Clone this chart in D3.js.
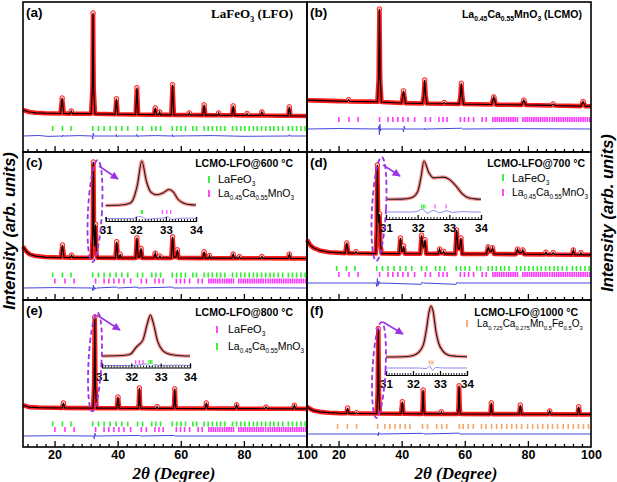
<!DOCTYPE html>
<html><head><meta charset="utf-8">
<script src="https://cdn.jsdelivr.net/npm/d3@7"></script>
<style>body{margin:0;background:#fff}svg{display:block}</style>
</head><body>
<svg id="chart" width="617" height="482"></svg>
<script>
// ---------------- DATA (2θ in degrees, intensity in arb. units, main peak = 100) ----------------
const obsA = [[10,4],[11,3],[12,2],[14,1.2],[17,0.8],[21.9,0.5],[22.4,15.8],[22.9,0.5],[24.9,0.4],[25.3,3],[25.7,0.4],[31.6,0.3],[32.0,25],[32.2,100],[32.4,25],[32.8,0.2],[39.2,-0.2],[39.6,15],[40.0,-0.2],[45.7,-0.5],[46.1,26],[46.5,-0.5],[51.5,-0.7],[51.9,6],[52.3,-0.7],[53.0,-0.7],[53.3,2],[53.6,-0.8],[57.0,-0.9],[57.4,29],[57.8,-0.9],[62.4,-1],[62.7,1],[63.0,-1],[67.0,-1.1],[67.4,9],[67.8,-1.1],[71.7,-1.2],[72.0,1],[72.3,-1.2],[76.2,-1.3],[76.6,8],[77.0,-1.3],[80.7,-1.4],[81.0,0.5],[81.3,-1.4],[85.3,-1.5],[85.7,2],[86.1,-1.5],[94.0,-1.8],[94.4,7],[94.8,-1.8],[100,-2]];
const obsB = [[10,3],[15,2.5],[20,2],[22.8,1.8],[23.2,3.5],[23.6,1.7],[30,1.5],[32.3,1.3],[32.7,25],[32.95,100],[33.2,25],[33.6,1],[40.0,0],[40.6,12.8],[41.2,-0.1],[46.6,-0.5],[47.0,8],[47.3,24.5],[47.6,8],[48.0,-0.6],[53.1,-0.8],[53.5,0.5],[53.9,-0.8],[58.2,-1],[58.6,7],[58.9,21],[59.2,7],[59.6,-1.1],[68.5,-1.6],[69.2,6.4],[69.9,-1.7],[78.0,-2],[78.7,3],[79.4,-2.1],[87.4,-2.6],[88.0,-1],[88.6,-2.7],[96.8,-3.3],[97.5,1.5],[98.2,-3.4],[100,-3.5]];
const obsC = [[10,12],[11,7],[12,4],[14,2],[17,1],[22.0,0.5],[22.5,13.5],[23.0,0.5],[25.0,0.4],[25.4,3],[25.8,0.4],[31.8,0.3],[32.1,25],[32.3,100],[32.5,30],[32.75,12],[33.0,35],[33.3,3],[33.6,0.2],[39.3,0.1],[39.7,17],[40.1,0.1],[40.5,0.1],[40.8,4],[41.1,0.1],[45.7,0],[46.1,21],[46.5,1],[47.0,1],[47.4,10],[47.8,0],[51.5,0],[51.9,5],[52.3,0],[53.1,0],[53.4,2],[53.7,0],[57.0,0],[57.4,22],[57.8,1],[58.5,1],[58.9,8.5],[59.3,0],[67.0,-0.1],[67.4,6.5],[67.8,-0.1],[68.8,-0.1],[69.1,2.5],[69.4,-0.1],[76.2,-0.2],[76.6,4],[77.0,-0.2],[78.3,-0.2],[78.6,1.5],[78.9,-0.2],[85.3,-0.3],[85.7,1.5],[86.1,-0.3],[94.0,-0.4],[94.4,4],[94.8,-0.4],[100,-0.5]];
const obsD = [[10,16],[11,10],[12,7],[14,4],[17,2],[22.1,1],[22.6,12.4],[23.1,1],[25.2,0.9],[25.5,2.5],[25.8,0.9],[31.8,0.5],[32.1,30],[32.3,100],[32.5,50],[32.75,35],[33.0,45],[33.3,10],[33.7,0.5],[39.2,0.4],[39.6,18],[40.0,3],[40.3,3],[40.6,9],[41.0,0.4],[45.9,0.3],[46.3,21],[46.8,8],[47.1,8],[47.4,16],[47.8,0.3],[51.6,0.2],[52.0,5.5],[52.4,1],[53.0,1],[53.3,3],[53.6,0.2],[57.0,0.1],[57.4,27],[57.9,6],[58.4,6],[58.8,18],[59.2,0.1],[66.9,0],[67.4,8],[67.9,3],[68.4,3],[68.8,7],[69.3,0],[76.2,-0.2],[76.7,5.5],[77.2,1.5],[78.0,1.5],[78.4,4.5],[78.8,-0.2],[85.3,-0.4],[85.7,2],[86.1,-0.4],[87.6,-0.5],[88.0,1.5],[88.4,-0.5],[94.0,-0.8],[94.4,4.5],[94.8,-0.8],[96.5,-0.9],[96.8,1.5],[97.1,-0.9],[100,-1]];
const obsE = [[10,3],[12,1],[15,0.5],[20,0.2],[22.4,0],[22.8,5.5],[23.2,0],[32.2,-0.1],[32.55,25],[32.75,100],[32.95,25],[33.3,-0.1],[39.7,-0.2],[40.1,12],[40.5,-0.2],[46.5,-0.3],[46.7,5],[46.9,22],[47.1,5],[47.3,-0.3],[52.2,-0.4],[52.5,1.5],[52.8,-0.4],[57.7,-0.5],[57.9,5],[58.1,21],[58.3,5],[58.5,-0.5],[67.7,-0.6],[68.1,5.5],[68.5,-0.6],[77.3,-0.7],[77.7,3.5],[78.1,-0.7],[86.6,-0.8],[87.0,1],[87.4,-0.8],[95.6,-0.9],[96.0,3],[96.4,-0.9],[100,-1]];
const obsF = [[10,8.5],[11,6],[12,4],[14,2.5],[17,1.5],[20,1],[22.45,0.8],[22.85,7],[23.25,0.8],[25.4,0.7],[25.7,1.5],[26.0,0.7],[32.1,0.5],[32.4,25],[32.6,100],[32.8,25],[33.1,0.5],[39.8,0.3],[40.2,14.4],[40.6,0.3],[46.4,0.2],[46.6,6],[46.8,28],[47.0,6],[47.2,0.2],[52.3,0.1],[52.6,2.5],[52.9,0.1],[57.8,0],[58.0,7],[58.2,33],[58.4,7],[58.6,0],[68.0,-0.1],[68.2,3],[68.4,13],[68.6,3],[68.8,-0.1],[77.2,-0.2],[77.6,10.5],[78.0,-0.2],[86.5,-0.3],[86.9,3.5],[87.3,-0.3],[95.7,-0.4],[96.1,8.5],[96.5,-0.4],[100,-0.5]];

const diffA = [[10,0],[15,0.5],[18,-0.4],[22.2,0],[22.4,-1],[22.6,1],[22.8,0],[28,0.4],[31.9,0],[32.1,-3],[32.25,3],[32.5,0],[39.5,0],[39.6,1.5],[39.8,-1],[40,0],[46,0],[46.1,1.5],[46.3,-1],[46.5,0],[52,0.4],[57.3,0],[57.4,1.5],[57.6,-1],[57.8,0],[70,0.4],[80,-0.3],[94.3,0],[94.4,1.2],[94.6,0],[100,0]];
const diffB = [[10,0],[20,0.5],[32.6,0],[32.8,3],[32.95,-6],[33.1,5],[33.3,-2],[33.5,0],[40.4,0],[40.6,-3],[40.8,3],[41,0],[47.2,0],[47.3,1],[47.5,-1],[47.7,0],[59,0.8],[59.3,0],[75,0.4],[100,0]];
const diffC = [[10,0],[20,0.4],[31.9,0],[32.1,-3],[32.3,3],[32.5,-2],[32.7,1],[33,-1],[33.3,0],[39.7,1],[40,0],[46.2,1],[46.4,0],[57.4,1],[57.6,0],[80,0.3],[100,0]];
const diffD = [[10,0],[31.9,0],[32.1,-4],[32.3,5],[32.5,-3],[32.8,2],[33.1,-1],[33.4,0],[46.2,-1.5],[46.5,1],[46.8,0],[57.3,-1.5],[57.6,1],[57.9,0],[100,0]];
const diffE = [[10,0],[20,0.3],[32.4,0],[32.6,-3],[32.8,3],[33,0],[47,0.6],[47.2,0],[58,0.6],[58.2,0],[100,0]];
const diffF = [[10,0],[32.4,0],[32.55,-2],[32.7,2],[32.9,0],[46.8,0.8],[47,0],[58.2,1],[58.4,0],[100,0]];

// Bragg reflection positions (2θ)
const LFO_TICKS = [19.4,22.5,25.2,32.1,33.9,35.7,37.6,39.5,41.3,43.2,46.3,47.9,50.8,52.1,53.6,57.3,58.7,60.1,61.5,63.8,65.0,67.4,68.7,70.0,71.4,72.6,74.0,76.4,77.7,79.0,80.3,81.7,83.0,84.2,85.6,86.9,88.3,89.5,90.9,92.3,94.1,95.4,96.7,98.1,99.4];
const LCMO_TICKS = [20.1,23.3,26.2,33.0,35.7,37.2,38.8,40.4,42.0,44.1,47.5,49.1,51.8,53.1,54.4,58.6,59.9,61.2,62.8,65.5,66.8,68.9,69.6,70.3,71.0,71.7,72.4,73.2,73.9,74.6,75.3,76.0,76.7,78.4,79.1,79.8,80.5,81.2,81.9,82.6,83.3,84.0,84.7,85.4,86.1,86.9,87.7,88.4,89.1,89.8,90.5,91.2,91.9,92.6,93.3,94.0,94.7,95.4,96.1,96.8,97.5,98.2,98.9,99.6];
const LCMFO_TICKS = [19.7,22.8,25.7,32.4,34.7,36.3,37.9,39.5,41.1,42.6,46.6,48.2,51.1,52.7,54.3,58.3,59.5,61.1,62.7,65.3,66.7,68.5,70.1,71.7,73.3,74.9,76.4,78.0,79.9,81.5,83.1,84.7,86.3,87.8,89.4,91.2,92.8,94.4,96.0,97.6,99.2];

// Insets (31–34°)
const insetC = [[31,0],[31.5,1],[31.8,5],[31.9,12],[32.05,45],[32.2,100],[32.35,55],[32.5,30],[32.7,24],[32.9,28],[33.1,36],[33.25,30],[33.4,14],[33.6,5],[33.8,2],[34,1]];
const insetD = [[31,0],[31.5,0.5],[31.8,4],[32.0,20],[32.1,55],[32.2,100],[32.35,70],[32.5,56],[32.8,58],[33.0,52],[33.2,36],[33.4,15],[33.6,4],[33.8,1],[34,0]];
const insetE = [[31,0],[31.5,0.5],[31.9,3],[32.0,6],[32.15,20],[32.25,27],[32.4,40],[32.55,80],[32.65,100],[32.75,80],[32.9,35],[33.05,15],[33.2,7],[33.5,2],[34,0]];
const insetF = [[31,0],[31.8,1],[32.1,5],[32.3,15],[32.4,27],[32.5,55],[32.6,90],[32.67,100],[32.75,88],[32.85,50],[32.95,27],[33.1,12],[33.3,4],[33.6,1.5],[34,0.5]];
const insetDiffC = [[31,0],[31.9,0],[32.1,5],[32.25,2],[32.4,-2],[32.6,0],[32.9,1],[33.05,4],[33.2,-2],[33.4,0],[33.7,1],[34,0]];
const insetDiffD = [[31,0],[31.8,0],[32.0,2],[32.15,8],[32.3,-3],[32.5,4],[32.7,-2],[32.9,3],[33.1,-1],[33.4,1],[33.7,0],[34,0]];
const insetDiffE = [[31,0],[32.0,0],[32.3,2],[32.5,4],[32.65,-3],[32.8,2],[33.0,0],[33.5,1],[34,0]];
const insetDiffF = [[31,0],[32.2,0],[32.5,-1],[32.62,4],[32.72,-4],[32.85,1],[33.1,0],[34,0]];
const insetTicksC_LFO = [32.18,32.22], insetTicksC_LCMO = [32.88,33.03,33.16];
const insetTicksD_LFO = [32.13,32.18,32.23], insetTicksD_LCMO = [32.55,32.9];
const insetTicksE_LFO = [32.15,32.27,32.4], insetTicksE_LCMO = [32.6,32.65,32.7];
const insetTicksF = [32.6,32.67,32.74];

const xMajor = [20,40,60,80,100];
const insetMajor = [31,32,33,34];

// ---------------- STYLE / LAYOUT ----------------
const SANS = "'Liberation Sans', Arial, sans-serif";
const SERIF = "'Liberation Serif', 'Times New Roman', serif";
const GREEN = '#2cf02c', MAGENTA = '#ff33ff', ORANGE = '#f4a66a', BLUE = '#4646dc', PURPLE = '#9a35e6';
const cols = [[23,307],[307,591]];
const rows = [[2,152],[152,300],[300,447]];

const panels = [
 {col:0,row:0,obs:obsA,diff:diffA,base:114,peak:13,diffY:136,bragg:[[LFO_TICKS,GREEN,126]],label:'(a)'},
 {col:1,row:0,obs:obsB,diff:diffB,base:103,peak:9,diffY:129,bragg:[[LCMO_TICKS,MAGENTA,117]],label:'(b)'},
 {col:0,row:1,obs:obsC,diff:diffC,base:258,peak:162,diffY:288,bragg:[[LFO_TICKS,GREEN,272.5],[LCMO_TICKS,MAGENTA,278.5]],label:'(c)',
   ell:[95,211,7,51,3],arrow:[99,166,118,179],
   inset:{data:insetC,diff:insetDiffC,x0:105.7,x1:196,axisY:221,base:205.5,peak:161,braggY:210,diffY:218.5,ticks:[[insetTicksC_LFO,GREEN],[insetTicksC_LCMO,MAGENTA]]}},
 {col:1,row:1,obs:obsD,diff:diffD,base:254,peak:165,diffY:283,bragg:[[LFO_TICKS,GREEN,266],[LCMO_TICKS,MAGENTA,272]],label:'(d)',
   ell:[379,209,7,52,3],arrow:[383,165,400,176],
   inset:{data:insetD,diff:insetDiffD,x0:386,x1:481,axisY:219,base:199.3,peak:161,braggY:204.5,diffY:212,ticks:[[insetTicksD_LFO,GREEN],[insetTicksD_LCMO,MAGENTA]]}},
 {col:0,row:2,obs:obsE,diff:diffE,base:408,peak:317,diffY:436,bragg:[[LFO_TICKS,GREEN,421.5],[LCMO_TICKS,MAGENTA,427]],label:'(e)',
   ell:[95,362,6.5,49.5,3],arrow:[97,315,120,330],
   inset:{data:insetE,diff:insetDiffE,x0:102,x1:190,axisY:367.5,base:356,peak:315,braggY:360,diffY:365.5,ticks:[[insetTicksE_LFO,MAGENTA],[insetTicksE_LCMO,GREEN]]}},
 {col:1,row:2,obs:obsF,diff:diffF,base:414,peak:328.5,diffY:434,bragg:[[LCMFO_TICKS,ORANGE,424]],label:'(f)',
   ell:[379,370,6.5,48,3],arrow:[383,322,403,334],
   inset:{data:insetF,diff:insetDiffF,x0:386,x1:467,axisY:375,base:357,peak:306,braggY:360.5,diffY:368,ticks:[[insetTicksF,ORANGE]]}}
];

const svg = d3.select('#chart');
svg.append('rect').attr('width',617).attr('height',482).attr('fill','#fff');
svg.append('defs').append('marker').attr('id','arr').attr('viewBox','0 0 10 10').attr('refX',9).attr('refY',5)
  .attr('markerWidth',5).attr('markerHeight',5).attr('orient','auto')
  .append('path').attr('d','M0,0L10,5L0,10z').attr('fill',PURPLE);

function rich(sel, x, y, parts, o) {
  const t = sel.append('text').attr('x',x).attr('y',y).attr('font-family',o.ff||SANS)
    .attr('font-size',o.fs).attr('font-weight',o.fw||'normal').attr('text-anchor',o.anchor||'start').attr('fill','#000');
  const sfs = o.sfs || o.fs*0.62;
  let down = false;
  parts.forEach(p => {
    const sub = Array.isArray(p);
    const ts = t.append('tspan').text(sub ? p[0] : p);
    if (sub) { ts.attr('font-size', sfs); if (!down) { ts.attr('dy', o.fs*0.3); down = true; } }
    else if (down) { ts.attr('dy', -o.fs*0.3); down = false; }
  });
  return t;
}

const minorTicks = [];
for (let m = 0; m <= 100; m += 20) for (let k = 1; k <= 6; k++) { const v = m + k*20/7; if (v > 10 && v < 100) minorTicks.push(v); }
const insetMinor = d3.range(31, 34.001, 0.1).map(v => +v.toFixed(1)).filter(v => !insetMajor.includes(v));

panels.forEach(p => {
  const [x0,x1] = cols[p.col], [y0,y1] = rows[p.row];
  const x = d3.scaleLinear([10,100],[x0,x1]);
  const y = d3.scaleLinear([0,100],[p.base,p.peak]);
  const yd = d3.scaleLinear([0,100],[p.diffY,p.diffY-(p.base-p.peak)]);
  const g = svg.append('g');
  const line = d3.line().x(d=>x(d[0])).y(d=>y(d[1]));
  g.append('path').attr('d',line(p.obs)).attr('fill','none').attr('stroke','#ff1c1c').attr('stroke-width',4.6).attr('stroke-linejoin','round');
  const apex = p.obs.filter((d,i,a) => i>0 && i<a.length-1 && d[1]>a[i-1][1] && d[1]>a[i+1][1]);
  g.selectAll('circle.o').data(apex).join('circle').attr('cx',d=>x(d[0])).attr('cy',d=>y(d[1])).attr('r',2.3)
    .attr('fill','#ffc0c0').attr('stroke','#ff1c1c').attr('stroke-width',0.9);
  g.append('path').attr('d',line(p.obs)).attr('fill','none').attr('stroke','#000').attr('stroke-width',1.2);
  p.bragg.forEach(([ticks,color,ty]) => {
    g.selectAll(null).data(ticks).join('line').attr('x1',d=>x(d)).attr('x2',d=>x(d)).attr('y1',ty).attr('y2',ty+5)
      .attr('stroke',color).attr('stroke-width',1.6);
  });
  g.append('path').attr('d',d3.line().x(d=>x(d[0])).y(d=>yd(d[1]))(p.diff)).attr('fill','none').attr('stroke',BLUE).attr('stroke-width',1);
  // frame
  g.append('rect').attr('x',x0).attr('y',y0).attr('width',x1-x0).attr('height',y1-y0).attr('fill','none').attr('stroke','#000').attr('stroke-width',1.6);
  // ticks (inward, at bottom)
  const ax = g.append('g').attr('transform',`translate(0,${y1})`);
  ax.call(d3.axisTop(x).tickValues(xMajor.filter(v=>v<100)).tickSize(6).tickFormat(''));
  ax.select('.domain').remove();
  const axm = g.append('g').attr('transform',`translate(0,${y1})`);
  axm.call(d3.axisTop(x).tickValues(minorTicks).tickSize(3).tickFormat(''));
  axm.select('.domain').remove();
  g.selectAll('.tick line').attr('stroke','#000').attr('stroke-width',1.3);
  if (p.row === 2) {
    const al = g.append('g').attr('transform',`translate(0,${y1})`)
      .call(d3.axisBottom(x).tickValues(xMajor).tickSize(0).tickPadding(3));
    al.select('.domain').remove();
    al.selectAll('text').attr('font-family',SANS).attr('font-size',12.5).attr('font-weight','bold').attr('fill','#000');
  }
  g.append('text').attr('x',x0+3).attr('y',y0+15).text(p.label).attr('font-family',SANS).attr('font-size',13.5).attr('font-weight','bold');

  if (p.inset) {
    const I = p.inset;
    const xi = d3.scaleLinear([31,34],[I.x0,I.x1]);
    const yi = d3.scaleLinear([0,100],[I.base,I.peak]);
    const ydi = d3.scaleLinear([0,100],[I.diffY,I.diffY-(I.base-I.peak)]);
    const li = d3.line().x(d=>xi(d[0])).y(d=>yi(d[1])).curve(d3.curveMonotoneX);
    g.append('path').attr('d',li(I.data)).attr('fill','none').attr('stroke','#ff5050').attr('stroke-width',3.6).attr('stroke-opacity',0.6);
    g.append('path').attr('d',li(I.data)).attr('fill','none').attr('stroke','#1a1a1a').attr('stroke-width',1.1);
    I.ticks.forEach(([ticks,color]) => {
      g.selectAll(null).data(ticks).join('line').attr('x1',d=>xi(d)).attr('x2',d=>xi(d)).attr('y1',I.braggY).attr('y2',I.braggY+4)
        .attr('stroke',color).attr('stroke-width',1.1);
    });
    g.append('path').attr('d',d3.line().x(d=>xi(d[0])).y(d=>ydi(d[1])).curve(d3.curveMonotoneX)(I.diff))
      .attr('fill','none').attr('stroke','#8c8cec').attr('stroke-width',1);
    const ia = g.append('g').attr('transform',`translate(0,${I.axisY})`);
    ia.call(d3.axisTop(xi).tickValues(insetMajor).tickSize(4).tickFormat(''));
    ia.select('.domain').attr('stroke','#000').attr('stroke-width',1.2);
    const im = g.append('g').attr('transform',`translate(0,${I.axisY})`);
    im.call(d3.axisTop(xi).tickValues(insetMinor).tickSize(2).tickFormat(''));
    im.select('.domain').remove();
    ia.selectAll('.tick line').attr('stroke','#000').attr('stroke-width',1.2);
    im.selectAll('.tick line').attr('stroke','#000').attr('stroke-width',0.9);
    const il = g.append('g').attr('transform',`translate(0,${I.axisY})`)
      .call(d3.axisBottom(xi).tickValues(insetMajor).tickSize(0).tickPadding(5).tickFormat(d3.format('d')));
    il.select('.domain').remove();
    il.selectAll('text').attr('font-family',SANS).attr('font-size',11.5).attr('font-weight','bold').attr('fill','#000');
    const [cx,cy,rx,ry,rot] = p.ell;
    g.append('ellipse').attr('cx',cx).attr('cy',cy).attr('rx',rx).attr('ry',ry).attr('transform',`rotate(${rot},${cx},${cy})`)
      .attr('fill','none').attr('stroke',PURPLE).attr('stroke-width',1.8).attr('stroke-dasharray','5,3');
    const [ax1,ay1,ax2,ay2] = p.arrow;
    g.append('line').attr('x1',ax1).attr('y1',ay1).attr('x2',ax2).attr('y2',ay2).attr('stroke',PURPLE).attr('stroke-width',1.6).attr('marker-end','url(#arr)');
  }
});

// Titles
rich(svg, 293, 18, ['LaFeO',['3'],' (LFO)'], {ff:SERIF, fs:13, fw:'bold', anchor:'end', sfs:8.5});
rich(svg, 582, 18, ['La',['0.45'],'Ca',['0.55'],'MnO',['3'],' (LCMO)'], {fs:10.5, fw:'bold', anchor:'end', sfs:6.8});
rich(svg, 293, 167, ['LCMO-LFO@600 °C'], {fs:10.5, fw:'bold', anchor:'end'});
rich(svg, 585, 167, ['LCMO-LFO@700 °C'], {fs:10.5, fw:'bold', anchor:'end'});
rich(svg, 293, 316, ['LCMO-LFO@800 °C'], {fs:10.5, fw:'bold', anchor:'end'});
rich(svg, 578, 316, ['LCMO-LFO@1000 °C'], {fs:10.5, fw:'bold', anchor:'end'});

// Legends
function legTick(x, y, c){ svg.append('line').attr('x1',x).attr('x2',x).attr('y1',y).attr('y2',y+7).attr('stroke',c).attr('stroke-width',1.8); }
legTick(209,176,GREEN); rich(svg,218,183,['LaFeO',['3']],{fs:11, sfs:6.5});
legTick(209,190,MAGENTA); rich(svg,218,197,['La',['0.45'],'Ca',['0.55'],'MnO',['3']],{fs:10.5, sfs:6.3});
legTick(503,174,GREEN); rich(svg,512,182,['LaFeO',['3']],{fs:11, sfs:6.5});
legTick(503,189,MAGENTA); rich(svg,512,196,['La',['0.45'],'Ca',['0.55'],'MnO',['3']],{fs:10.5, sfs:6.3});
legTick(217,326,MAGENTA); rich(svg,228,333,['LaFeO',['3']],{fs:11, sfs:6.5});
legTick(217,343,GREEN); rich(svg,228,350,['La',['0.45'],'Ca',['0.55'],'MnO',['3']],{fs:10.5, sfs:6.3});
legTick(467,320,ORANGE); rich(svg,477,327,['La',['0.725'],'Ca',['0.275'],'Mn',['0.5'],'Fe',['0.5'],'O',['3']],{fs:10, sfs:5.8});

// Axis titles
svg.append('text').attr('transform','translate(15,231) rotate(-90)').attr('text-anchor','middle')
  .attr('font-family',SANS).attr('font-size',16.5).attr('font-weight','bold').attr('font-style','italic').text('Intensity (arb. units)');
svg.append('text').attr('transform','translate(613,213) rotate(-90)').attr('text-anchor','middle')
  .attr('font-family',SANS).attr('font-size',16.5).attr('font-weight','bold').attr('font-style','italic').text('Intensity (arb. units)');
[174,456].forEach(cx => {
  svg.append('text').attr('x',cx).attr('y',479).attr('text-anchor','middle').attr('font-family',SERIF)
    .attr('font-size',17).attr('font-weight','bold').attr('font-style','italic').text('2θ (Degree)');
});
</script>
</body></html>
